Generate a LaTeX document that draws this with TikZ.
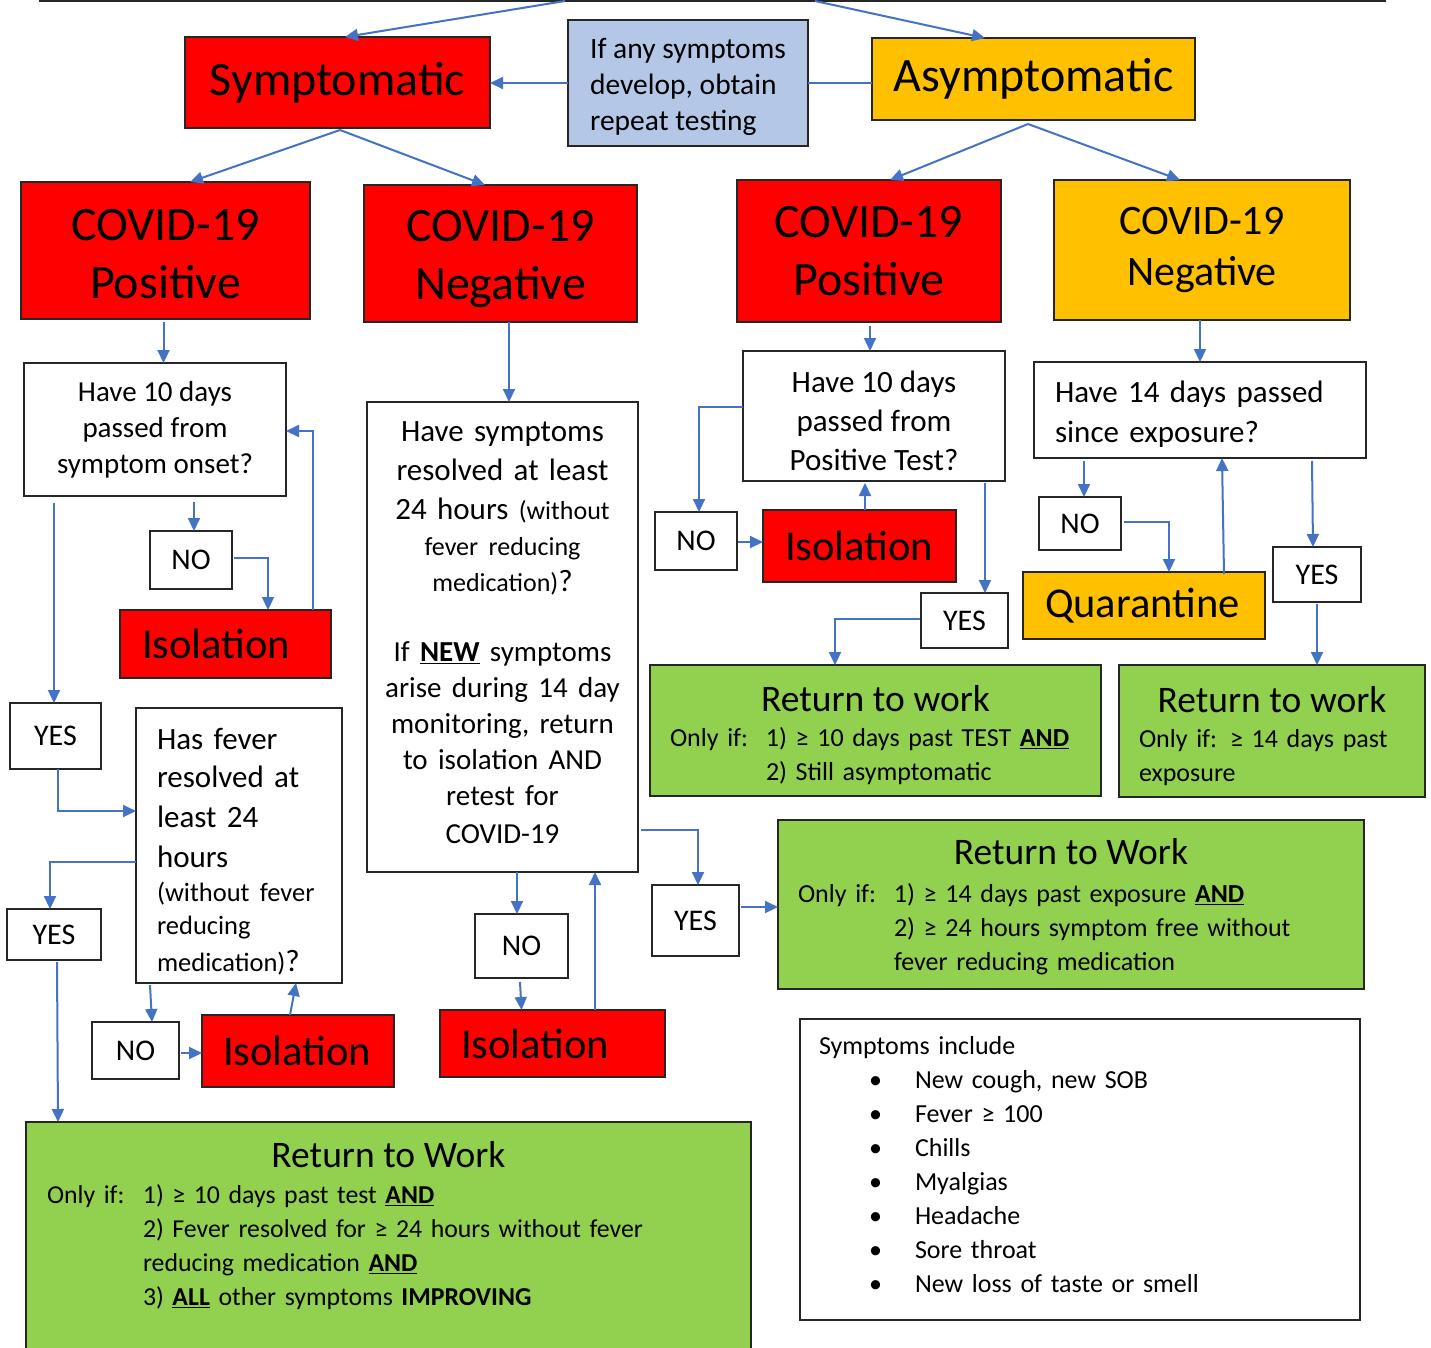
\documentclass[tikz,border=0pt]{standalone}
\usepackage{fontspec}
\setmainfont{Carlito}
\usetikzlibrary{arrows.meta,calc}
\definecolor{redC}{HTML}{FF0000}
\definecolor{oraC}{HTML}{FFC000}
\definecolor{grnC}{HTML}{92D050}
\definecolor{bluC}{HTML}{B4C7E7}
\definecolor{lnC}{HTML}{4472C4}
\newcommand\fsz[2]{\fontsize{#1pt}{#2pt}\selectfont}
\newcommand\ulb[1]{\underline{\textbf{#1}}}
\newcommand\toppad[1]{\rule{0pt}{#1pt}}
\newcommand\botpad[1]{\rule[-#1pt]{0pt}{#1pt}}
\begin{document}
\begin{tikzpicture}[x=1pt,y=-1pt,
  box/.style={draw=black!85, line width=1.3pt, inner sep=0pt, outer sep=0pt},
  redbox/.style={box, fill=redC},
  orabox/.style={box, fill=oraC},
  grnbox/.style={box, fill=grnC},
  whbox/.style={box, fill=white},
  yn/.style={whbox, font=\fsz{30}{36}},
  big/.style={align=center, font=\fsz{48}{58}},
  isol/.style={redbox, align=left, font=\fsz{42.5}{48}},
  conn/.style={draw=lnC, line width=2pt},
  arr/.style={conn, -{Triangle[length=13pt,width=12pt]}},
]
\useasboundingbox (0,0) rectangle (1431,1347);
\fill[white] (0,0) rectangle (1431,1347);
\clip (0,0) rectangle (1431,1347);

% ---------- top level ----------
\node[whbox, minimum width=1345pt, minimum height=41pt] (top) at (712.5,-19.5) {};
\node[redbox, minimum width=305pt, minimum height=91pt, font=\fsz{48}{56}] (sym) at (337.5,82.5) {Symptomatic};
\node[box, fill=bluC, minimum width=240pt, minimum height=126pt, align=left, font=\fsz{29.5}{36}] (note) at (688,83) {\toppad{29}If any symptoms\\develop, obtain\\repeat testing};
\node[orabox, minimum width=323pt, minimum height=82pt, font=\fsz{48}{56}] (asym) at (1033.5,79) {Asymptomatic};

\node[redbox, big, minimum width=289pt, minimum height=137pt] (pos1) at (165.5,250.5) {\toppad{39}COVID-19\\Positive};
\node[redbox, big, minimum width=273pt, minimum height=137pt] (neg1) at (500.5,253.5) {\toppad{43}COVID-19\\Negative};
\node[redbox, big, minimum width=264pt, minimum height=142pt] (pos2) at (869,251) {COVID-19\\Positive};
\node[orabox, align=center, font=\fsz{42}{51}, minimum width=296pt, minimum height=140pt] (neg2) at (1202,250) {COVID-19\\Negative};

% ---------- left column ----------
\node[whbox, align=center, font=\fsz{29}{36}, minimum width=262pt, minimum height=133pt] (q1) at (155,429.5) {Have 10 days\\passed from\\symptom onset?};
\node[yn, minimum width=82pt, minimum height=58pt] (no1) at (191,560) {NO};
\node[isol, text width=167pt, inner xsep=22pt, minimum height=68pt] (iso1) at (225.5,644) {Isolation};
\node[yn, minimum width=91pt, minimum height=66pt] (yes1) at (55.5,736) {YES};
\node[whbox, align=left, text width=164pt, inner xsep=21pt, minimum height=275pt, font=\fsz{31}{37}] (q2) at (239,845.5)
  {\toppad{34}Has fever\\[1pt]resolved at\\[3pt]least 24\\[3pt]hours\\[-3pt]{\fsz{26.5}{37}(without fever}\\[-4pt]{\fsz{26.5}{37}reducing}\\{\fsz{26.5}{37}medication)}?};
\node[yn, minimum width=94pt, minimum height=51pt] (yes2) at (54,934.5) {YES};
\node[yn, minimum width=87pt, minimum height=57pt] (no2) at (135.5,1050.5) {NO};
\node[isol, text width=150pt, inner xsep=21pt, minimum height=72pt] (iso2) at (298,1051) {Isolation};
\node[grnbox, minimum width=725pt, minimum height=258pt] (rtw1) at (388.5,1251) {};
\node[inner sep=0pt, text width=683pt, align=left, font=\fsz{25.8}{34}] (rtw1txt) at (388.5,1226)
  {\makebox[683pt][c]{\fsz{37.5}{40}Return to Work}\\[2pt]
   \makebox[96pt][l]{Only if:}1) ≥ 10 days past test \ulb{AND}\\
   \hspace*{96pt}2) Fever resolved for ≥ 24 hours without fever\\
   \hspace*{96pt}reducing medication \ulb{AND}\\
   \hspace*{96pt}3) \ulb{ALL} other symptoms \textbf{IMPROVING}};

% ---------- middle column ----------
\node[whbox, align=center, text width=251pt, inner xsep=10pt, minimum height=470pt, font=\fsz{31}{36}] (q3) at (502.5,637)
  {Have symptoms\\[3pt]
   resolved at least\\[3pt]
   24 hours {\fsz{26}{36}(without}\\
   {\fsz{26}{36}fever reducing}\\
   {\fsz{26}{36}medication)}?\\[34pt]
   {\fsz{29}{36}If \ulb{NEW} symptoms}\\
   {\fsz{29}{36}arise during 14 day}\\
   {\fsz{29}{36}monitoring, return}\\
   {\fsz{29}{36}to isolation AND}\\
   {\fsz{29}{36}retest for}\\[2pt]
   {\fsz{29}{36}COVID-19}\botpad{9}};
\node[yn, minimum width=93pt, minimum height=64pt] (no3) at (521.5,946) {NO};
\node[isol, text width=183pt, inner xsep=21pt, minimum height=67pt] (iso3) at (552.5,1043.5) {Isolation};
\node[yn, minimum width=87pt, minimum height=71pt] (yes3) at (695.5,920.5) {YES};
\node[grnbox, align=left, text width=546pt, inner xsep=20pt, minimum height=169pt, font=\fsz{26}{34}] (rtw3) at (1071,904.5)
  {\toppad{31}\makebox[546pt][c]{\fsz{37.5}{40}Return to Work}\\[4pt]
   \makebox[96pt][l]{Only if:}1) ≥ 14 days past exposure \ulb{AND}\\
   \hspace*{96pt}2) ≥ 24 hours symptom free without\\
   \hspace*{96pt}fever reducing medication};

% ---------- right-middle column ----------
\node[whbox, align=center, font=\fsz{31}{39}, minimum width=262pt, minimum height=130pt] (q4) at (874,416) {\toppad{32}Have 10 days\\passed from\\Positive Test?};
\node[yn, minimum width=82pt, minimum height=58pt] (no4) at (696,541) {NO};
\node[isol, text width=149pt, inner xsep=22pt, minimum height=72pt] (iso4) at (859.5,546) {Isolation};
\node[yn, minimum width=87pt, minimum height=55pt] (yes4) at (964.5,620.5) {YES};
\node[grnbox, align=left, text width=411pt, inner xsep=20pt, minimum height=131pt, font=\fsz{26}{34}] (rtw2) at (875.5,730.5)
  {\toppad{36}\makebox[411pt][c]{\fsz{37.5}{40}Return to work}\\[1pt]
   \makebox[96pt][l]{Only if:}1) ≥ 10 days past TEST \ulb{AND}\\
   \hspace*{96pt}2) Still asymptomatic};

% ---------- right column ----------
\node[whbox, align=left, text width=290pt, inner xsep=21pt, minimum height=96pt, font=\fsz{31}{40}] (q5) at (1200,410) {\toppad{30}Have 14 days passed\\since exposure?};
\node[yn, minimum width=82pt, minimum height=53pt] (no5) at (1080,523.5) {NO};
\node[orabox, align=left, text width=198pt, inner xsep=22pt, minimum height=67pt, font=\fsz{42.5}{48}] (quar) at (1144,605.5) {Quarantine};
\node[yn, minimum width=88pt, minimum height=55pt] (yes5) at (1317,574.5) {YES};
\node[grnbox, align=left, text width=266pt, inner xsep=20pt, minimum height=132pt, font=\fsz{26}{34}] (rtw4) at (1272,731)
  {\toppad{36}\makebox[266pt][c]{\fsz{37.5}{40}Return to work}\\[1pt]
   Only if: ≥ 14 days past\\exposure};

% ---------- symptoms list ----------
\node[whbox, align=left, text width=522pt, inner xsep=19pt, minimum height=301pt, font=\fsz{26}{34}] (symp) at (1080,1169.5)
  {Symptoms include\\
   \hspace*{50pt}\makebox[46pt][l]{\textbullet}New cough, new SOB\\
   \hspace*{50pt}\makebox[46pt][l]{\textbullet}Fever ≥ 100\\
   \hspace*{50pt}\makebox[46pt][l]{\textbullet}Chills\\
   \hspace*{50pt}\makebox[46pt][l]{\textbullet}Myalgias\\
   \hspace*{50pt}\makebox[46pt][l]{\textbullet}Headache\\
   \hspace*{50pt}\makebox[46pt][l]{\textbullet}Sore throat\\
   \hspace*{50pt}\makebox[46pt][l]{\textbullet}New loss of taste or smell\botpad{11}};

% ---------- connectors ----------
\draw[arr] ($(top.south)+(-147.5,0)$) -- ($(sym.north)+(7.5,0)$);
\draw[arr] ($(top.south)+(102.5,0)$) -- ($(asym.north)+(-48.5,0)$);
\draw[arr] (note.west) -- ($(sym.east)+(0,0.5)$);
\draw[conn] (note.east) -- ($(asym.west)+(0,4)$);
\draw[arr] ($(sym.south)+(2.5,2)$) -- ($(pos1.north)+(24.5,0)$);
\draw[arr] ($(sym.south)+(2.5,2)$) -- ($(neg1.north)+(-15.5,0)$);
\draw[arr] ($(asym.south)+(-5.5,4)$) -- ($(pos2.north)+(21,0)$);
\draw[arr] ($(asym.south)+(-5.5,4)$) -- ($(neg2.north)+(-22,0)$);

\draw[arr] ($(pos1.south)+(-2,3)$) -- ($(q1.north)+(8.5,0)$);
\draw[arr] ($(q1.south)+(39,6)$) -- ($(no1.north)+(3,0)$);
\draw[arr] ($(no1.east)+(2,-2)$) -| ($(iso1.north)+(42.5,0)$);
\draw[arr] ($(iso1.north)+(87.5,0)$) |- ($(q1.east)+(0,1.5)$);
\draw[arr] ($(q1.south)+(-101,7)$) -- ($(yes1.north)+(-1.5,0)$);
\draw[arr] ($(yes1.south)+(2.5,0)$) |- ($(q2.west)+(0,-34.5)$);
\draw[arr] ($(q2.west)+(0,16.5)$) -| ($(yes2.north)+(-4,0)$);
\draw[arr] ($(yes2.south)+(3,2)$) -- ($(rtw1.north)+(-330.5,0)$);
\draw[arr] ($(q2.south)+(-89,2)$) -- ($(no2.north)+(16.5,0)$);
\draw[arr] ($(no2.east)+(2,2.5)$) -- ($(iso2.west)+(0,2)$);
\draw[arr] ($(iso2.north)+(-8,0)$) -- ($(q2.south)+(57,0)$);

\draw[arr] ($(neg1.south)+(8.5,0)$) -- ($(q3.north)+(6.5,0)$);
\draw[arr] ($(q3.south)+(14.5,0)$) -- ($(no3.north)+(-4.5,0)$);
\draw[arr] ($(no3.south)+(-1.5,4)$) -- ($(iso3.north)+(-31,0)$);
\draw[arr] ($(iso3.north)+(42.5,0)$) -- ($(q3.south)+(92.5,0)$);
\draw[arr] ($(q3.east)+(3,193)$) -| ($(yes3.north)+(2.5,0)$);
\draw[arr] ($(yes3.east)+(2,-13.5)$) -- ($(rtw3.west)+(0,2.5)$);

\draw[arr] ($(pos2.south)+(1,4)$) -- ($(q4.north)+(-4,0)$);
\draw[arr] ($(q4.west)+(0,-9)$) -| ($(no4.north)+(3,0)$);
\draw[arr] ($(no4.east)+(1,1)$) -- ($(iso4.west)+(0,-4)$);
\draw[arr] ($(iso4.north)+(5.5,0)$) -- ($(q4.south)+(-9,2)$);
\draw[arr] ($(q4.south)+(111,2)$) -- ($(yes4.north)+(20.5,0)$);
\draw[arr] ($(yes4.west)+(-1,-1.5)$) -| ($(rtw2.north)+(-40.5,0)$);

\draw[arr] ($(neg2.south)+(-2,0)$) -- (q5.north);
\draw[arr] ($(q5.south)+(-116,3)$) -- ($(no5.north)+(4,0)$);
\draw[arr] ($(no5.east)+(3,-1.5)$) -| ($(quar.north)+(25,0)$);
\draw[arr] ($(quar.north)+(80,2)$) -- ($(q5.south)+(22,0)$);
\draw[arr] ($(q5.south)+(112,3)$) -- ($(yes5.north)+(-4,0)$);
\draw[arr] ($(yes5.south)+(0,2)$) -- ($(rtw4.north)+(45,0)$);
\end{tikzpicture}
\end{document}
